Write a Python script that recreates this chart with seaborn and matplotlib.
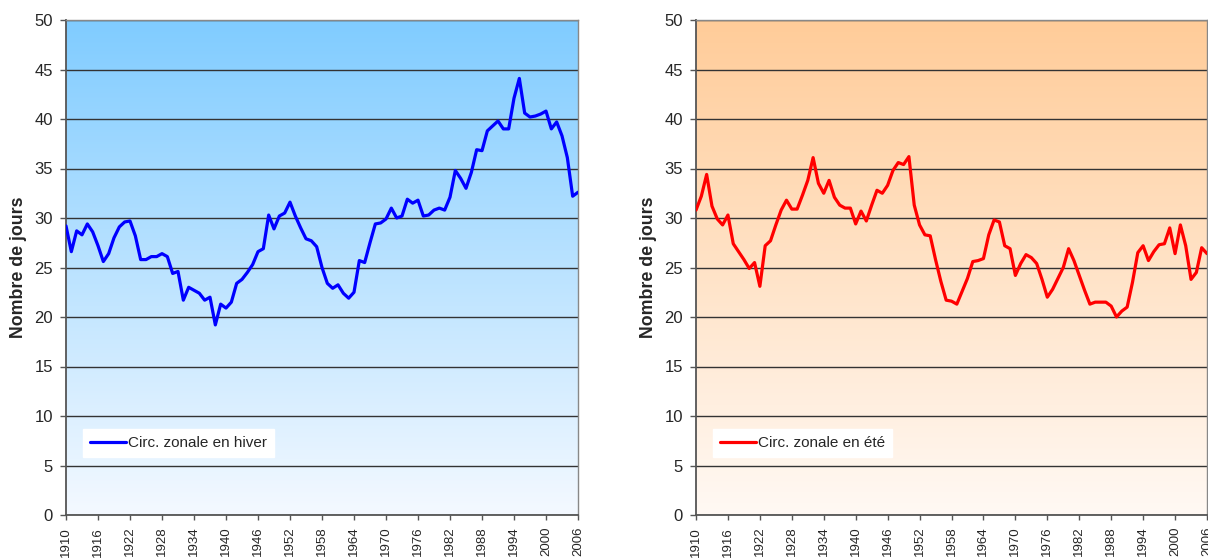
import numpy as np
import pandas as pd
import matplotlib
matplotlib.use('Agg')
import matplotlib.pyplot as plt
from matplotlib.colors import LinearSegmentedColormap
import seaborn as sns

sns.set_style('white')
plt.rcParams['font.family'] = ['Liberation Sans', 'DejaVu Sans']

years = list(range(1910, 2007))

hiver = [29.2, 26.6, 28.7, 28.3, 29.4, 28.6, 27.2, 25.6, 26.4, 28.0,
         29.1, 29.6, 29.7, 28.2, 25.8, 25.8, 26.1, 26.1, 26.4, 26.1,
         24.4, 24.6, 21.7, 23.0, 22.7, 22.4, 21.7, 22.0, 19.2, 21.3,
         20.9, 21.5, 23.4, 23.8, 24.5, 25.3, 26.6, 26.9, 30.3, 28.9,
         30.2, 30.5, 31.6, 30.2, 29.0, 27.9, 27.7, 27.1, 25.0, 23.4,
         22.9, 23.25, 22.4, 21.9, 22.5, 25.7, 25.5, 27.5, 29.4, 29.5,
         29.9, 31.0, 30.0, 30.2, 31.9, 31.5, 31.8, 30.2, 30.3, 30.8,
         31.0, 30.8, 32.1, 34.8, 34.0, 33.0, 34.6, 36.9, 36.8, 38.8,
         39.3, 39.8, 39.0, 39.0, 42.1, 44.1, 40.6, 40.2, 40.3, 40.5,
         40.8, 39.0, 39.7, 38.3, 36.1, 32.2, 32.6]

ete = [30.8, 32.2, 34.4, 31.2, 29.9, 29.3, 30.3, 27.4, 26.6, 25.8,
       24.9, 25.5, 23.1, 27.2, 27.7, 29.3, 30.8, 31.8, 30.9, 30.9,
       32.3, 33.8, 36.1, 33.5, 32.5, 33.8, 32.1, 31.3, 31.0, 31.0,
       29.4, 30.7, 29.7, 31.3, 32.8, 32.5, 33.3, 34.8, 35.6, 35.4,
       36.2, 31.3, 29.3, 28.3, 28.2, 25.8, 23.6, 21.7, 21.6, 21.3,
       22.6, 23.9, 25.6, 25.7, 25.9, 28.3, 29.8, 29.6, 27.2, 26.9,
       24.2, 25.4, 26.3, 26.0, 25.4, 23.8, 22.0, 22.8, 23.9, 25.0,
       26.9, 25.7, 24.2, 22.7, 21.3, 21.5, 21.5, 21.5, 21.1, 20.0,
       20.6, 21.0, 23.5, 26.5, 27.2, 25.7, 26.6, 27.3, 27.4, 29.0,
       26.4, 29.3, 27.2, 23.8, 24.5, 27.0, 26.4]

year_ticks = list(range(1910, 2007, 6))
y_ticks = list(range(0, 51, 5))

df = pd.DataFrame({'Année': years, 'hiver': hiver, 'ete': ete})

fig = plt.figure(figsize=(12.08, 5.6), dpi=100)
ax1 = fig.add_axes([66 / 1208, 45 / 560, 512 / 1208, 495 / 560])
ax2 = fig.add_axes([696 / 1208, 45 / 560, 511 / 1208, 495 / 560])

panels = [
    (ax1, 'hiver', '#0000FF', 'Circ. zonale en hiver', '#80CCFF', '#F4F9FF'),
    (ax2, 'ete', '#FF0000', 'Circ. zonale en été', '#FFCC99', '#FFF9F4'),
]

for ax, col, color, label, top_c, bot_c in panels:
    # fond dégradé façon Excel
    cmap = LinearSegmentedColormap.from_list('grad', [bot_c, top_c])
    grad = np.linspace(0, 1, 256).reshape(-1, 1)
    ax.imshow(grad, cmap=cmap, origin='lower', aspect='auto',
              extent=(1910, 2006, 0, 50), zorder=0)

    sns.lineplot(data=df, x='Année', y=col, color=color, linewidth=2.3,
                 label=label, ax=ax, zorder=3)

    ax.set_xlim(1910, 2006)
    ax.set_ylim(0, 50)
    ax.set_xticks(year_ticks)
    ax.set_xticklabels([str(y) for y in year_ticks], rotation=90, fontsize=9.5)
    ax.set_yticks(y_ticks)
    ax.set_yticklabels([str(v) for v in y_ticks], fontsize=12)
    ax.set_xlabel('')
    ax.set_ylabel('Nombre de jours', fontsize=12.8, fontweight='bold', labelpad=5)

    ax.set_axisbelow(True)
    ax.yaxis.grid(True, color='#333333', linewidth=1.0)
    ax.xaxis.grid(False)
    ax.tick_params(axis='y', direction='out', length=4.5, width=1,
                   color='#555555', pad=5, left=True)
    ax.tick_params(axis='x', direction='out', length=3.5, width=1,
                   color='#555555', pad=5, bottom=True)
    for side in ['left', 'bottom']:
        ax.spines[side].set_color('#555555')
        ax.spines[side].set_linewidth(1.3)
    for side in ['top', 'right']:
        ax.spines[side].set_color('#888888')
        ax.spines[side].set_linewidth(1.0)

    leg = ax.legend(loc='lower left', bbox_to_anchor=(0.033, 0.117),
                    borderaxespad=0, fontsize=11, frameon=True, fancybox=False,
                    handlelength=2.35, handletextpad=0.15, borderpad=0.45)
    leg.get_frame().set_facecolor('white')
    leg.get_frame().set_edgecolor('white')
    leg.get_frame().set_alpha(1)

fig.savefig('out.png', dpi=100)
